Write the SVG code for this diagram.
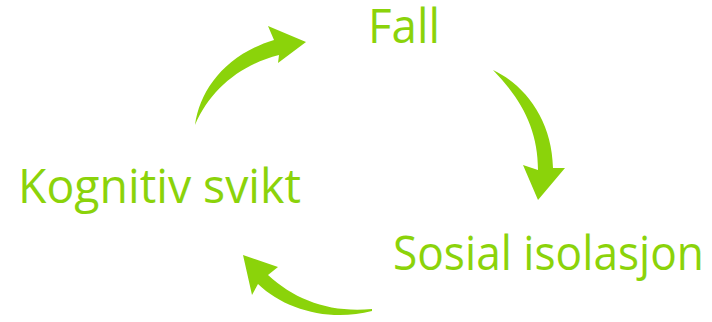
<svg xmlns="http://www.w3.org/2000/svg" width="712" height="322" viewBox="0 0 712 322">
<style>
.lbl{font-family:"Open Sans","DejaVu Sans",sans-serif;font-size:47px;fill:#8bd30a}
.arr{fill:#8bd30a;stroke:none}
</style>
<rect width="712" height="322" fill="#ffffff"/>
<g id="connectors">
<path class="arr" d="M195,125 C200,90 225,55 274,40 L268,26 L306,42 L278,63 L279,55 C240,65 210,90 195,125 Z"/>
<path class="arr" d="M493,70 C525,85 552,120 553,168 L565,168 L538,200 L523,165 L538,170 C538,130 522,100 493,70 Z"/>
<path class="arr" d="M372,309 C330,313 295,300 268,275 L278,267 L243,255 L252,295 L258,284 C285,310 330,322 372,311 Z"/>
</g>
<g id="fall"><text class="lbl" x="368" y="43" textLength="72" lengthAdjust="spacingAndGlyphs">Fall</text></g>
<g id="sosial"><text class="lbl" x="393" y="270" textLength="311" lengthAdjust="spacingAndGlyphs">Sosial isolasjon</text></g>
<g id="kognitiv"><text class="lbl" x="18" y="203" textLength="283" lengthAdjust="spacingAndGlyphs">Kognitiv svikt</text></g>
</svg>
